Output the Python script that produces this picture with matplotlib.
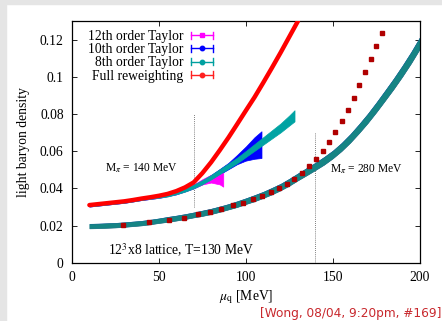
import matplotlib
matplotlib.use("Agg")
import matplotlib.pyplot as plt
import numpy as np
from matplotlib.legend_handler import HandlerBase
from matplotlib.lines import Line2D
from matplotlib.patches import Rectangle

# M_pi = 140 MeV, full reweighting
red_mu = [10, 15, 20, 25, 30, 35, 40, 45, 50, 55, 60, 65, 70, 75, 80, 85, 90, 95, 100, 105, 110, 115, 120,
          125, 130]
red_y = [0.031, 0.0315, 0.032, 0.0325, 0.033, 0.0337, 0.0345, 0.0352, 0.036, 0.037, 0.0385, 0.0405, 0.0432,
         0.0482, 0.054, 0.0605, 0.0673, 0.0745, 0.0818, 0.089, 0.0968, 0.1048, 0.113, 0.1215, 0.130]

# M_pi = 140 MeV, Taylor expansions (centre, half width)
t8_mu = [10, 15, 20, 25, 30, 35, 40, 45, 50, 55, 60, 65, 70, 75, 80, 85, 90, 95, 100, 105, 110, 115, 120,
         125, 128]
t8_y = [0.031, 0.0315, 0.032, 0.0325, 0.033, 0.0337, 0.0345, 0.0351, 0.0357, 0.0365, 0.0377, 0.0392, 0.041,
        0.0433, 0.046, 0.049, 0.052, 0.055, 0.0585, 0.062, 0.0655, 0.069, 0.0725, 0.0765, 0.079]
t8_err = [0.0008, 0.0008, 0.0008, 0.0008, 0.0008, 0.0008, 0.0008, 0.0008, 0.0008, 0.0009, 0.0009, 0.0010,
          0.0010, 0.0011, 0.0012, 0.0013, 0.0014, 0.0015, 0.0016, 0.0018, 0.0020, 0.0022, 0.0024, 0.0027, 0.0030]

t10_mu = [10, 20, 30, 40, 50, 60, 70, 75, 80, 85, 90, 95, 100, 105, 109]
t10_y = [0.031, 0.032, 0.033, 0.0345, 0.0357, 0.0377, 0.041, 0.0433, 0.046, 0.049, 0.052, 0.0555, 0.0587,
         0.0617, 0.0635]
t10_err = [0.0008, 0.0008, 0.0008, 0.0008, 0.0008, 0.0009, 0.0010, 0.0011, 0.0012, 0.0014, 0.0017, 0.0025,
           0.0038, 0.0058, 0.0072]

t12_mu = [10, 20, 30, 40, 50, 60, 70, 75, 80, 85, 87]
t12_y = [0.031, 0.032, 0.033, 0.0345, 0.0357, 0.0377, 0.041, 0.0435, 0.0452, 0.0452, 0.0446]
t12_err = [0.0008, 0.0008, 0.0008, 0.0008, 0.0008, 0.0009, 0.0010, 0.0014, 0.0021, 0.0031, 0.0037]

# M_pi = 280 MeV, Taylor expansions (all overlapping)
low_mu = [10, 15, 20, 25, 30, 35, 40, 45, 50, 55, 60, 65, 70, 75, 80, 85, 90, 95, 100, 105, 110, 115, 120,
          125, 130, 135, 140, 145, 150, 155, 160, 165, 170, 175, 180, 185, 190, 195, 200]
low_y = [0.0197, 0.0198, 0.0200, 0.0202, 0.0205, 0.0209, 0.0213, 0.0219, 0.0226, 0.0233, 0.0240, 0.0248,
         0.0257, 0.0266, 0.0276, 0.0288, 0.0301, 0.0315, 0.0331, 0.0347, 0.0365, 0.0385, 0.0407, 0.0433,
         0.0462, 0.0490, 0.0518, 0.0548, 0.0582, 0.0622, 0.0668, 0.0720, 0.0775, 0.0835, 0.0898, 0.0962,
         0.1030, 0.1102, 0.1180]
low_err = [0.0012, 0.0012, 0.0012, 0.0012, 0.0012, 0.0012, 0.0012, 0.0012, 0.0012, 0.0013, 0.0013, 0.0013,
           0.0013, 0.0014, 0.0014, 0.0014, 0.0014, 0.0015, 0.0015, 0.0016, 0.0016, 0.0017, 0.0017, 0.0018,
           0.0018, 0.0019, 0.0019, 0.0020, 0.0020, 0.0021, 0.0022, 0.0023, 0.0024, 0.0025, 0.0026, 0.0027,
           0.0028, 0.0029, 0.0030]

# M_pi = 280 MeV, full reweighting
sq_mu = [29.5, 44.5, 55.8, 64.6, 72.6, 79.5, 85.7, 92.6, 98.6, 103.9, 109.1, 114.3, 119.1, 123.9, 127.9, 132.1,
         136.3, 140.3, 144.2, 147.8, 151.5, 155.1, 158.6, 162.0, 165.3, 168.6, 172.0, 175.0, 178.3]
sq_y = [0.0203, 0.0217, 0.0230, 0.0242, 0.0260, 0.0273, 0.0287, 0.0308, 0.0323, 0.0341, 0.0360, 0.0379, 0.0402,
        0.0425, 0.0452, 0.0483, 0.0518, 0.0558, 0.0601, 0.0649, 0.0703, 0.0762, 0.0823, 0.0888, 0.0954, 0.1024,
        0.1096, 0.1166, 0.1234]

legend_labels = ["12th order Taylor", "10th order Taylor", "8th order Taylor", "Full reweighting"]
legend_colors = ["#ff00ff", "#0000ff", "#00a0a0", "#ff2020"]

RED = "#ff0000"
DARKRED = "#b00000"
TEAL = "#00a3a3"
TEAL_LOW = "#158484"


class ErrorBarHandle(HandlerBase):
    # gnuplot-like key sample: horizontal bar with caps and a point
    def create_artists(self, legend, orig, xd, yd, w, h, fs, trans):
        c = orig.get_color()
        y = h / 2 - yd
        x0, x1 = -xd, -xd + w
        arts = [Line2D([x0, x1], [y, y], color=c, lw=1),
                Line2D([x0, x0], [y - 2.5, y + 2.5], color=c, lw=1),
                Line2D([x1, x1], [y - 2.5, y + 2.5], color=c, lw=1),
                Line2D([(x0 + x1) / 2], [y], color=c, marker=orig.get_marker(), ms=3.2, lw=0)]
        for a in arts:
            a.set_transform(trans)
        return arts


def band(ax, mu, y, err, color, z):
    y = np.array(y)
    err = np.array(err)
    ax.fill_between(mu, y - err, y + err, color=color, lw=0.5, edgecolor=color, zorder=z)


def main():
    plt.rcParams["font.family"] = ["Liberation Serif", "DejaVu Serif"]
    plt.rcParams["mathtext.fontset"] = "stix"

    fig = plt.figure(figsize=(4.42, 3.21), dpi=100)
    fig.patch.set_facecolor("white")
    fig.patches.append(Rectangle((0, 1 - 4 / 321), 1, 4 / 321, transform=fig.transFigure,
                                 color="#e5e5e5", zorder=-10))
    fig.patches.append(Rectangle((0, 0), 6 / 442, 1, transform=fig.transFigure,
                                 color="#e5e5e5", zorder=-10))
    ax = fig.add_axes([0.1629, 0.1816, 0.9495 - 0.1629, 0.9346 - 0.1816])

    # M_pi = 280 MeV
    low = np.array(low_y)
    lerr = np.array(low_err)
    ax.fill_between(low_mu, low, low + lerr * 1.12, color="#1818c8", lw=0, zorder=2)
    ax.fill_between(low_mu, low - lerr * 1.08, low, color="#8a3aa0", lw=0, zorder=1.9)
    band(ax, low_mu, low_y, low_err, TEAL_LOW, 2.1)
    ax.plot(sq_mu, sq_y, ls="none", marker="s", ms=3.2, color=DARKRED, mec=DARKRED, zorder=3)

    # M_pi = 140 MeV
    band(ax, t10_mu, t10_y, t10_err, "#0000ff", 2)
    band(ax, t12_mu, t12_y, t12_err, "#ff00ff", 2.05)
    band(ax, t8_mu, t8_y, t8_err, TEAL, 2.2)
    ax.plot(red_mu, red_y, color=RED, lw=3.2, solid_capstyle="round", zorder=3)

    # pion mass markers
    ax.plot([70, 70], [0.030, 0.080], color="#555555", lw=0.6, ls=(0, (1, 1.5)), zorder=1)
    ax.plot([140, 140], [0.0, 0.070], color="#555555", lw=0.6, ls=(0, (1, 1.5)), zorder=1)

    ax.text(40, 0.051, r"M$_\pi$ = 140 MeV", fontsize=8.3, ha="center", va="center")
    ax.text(148.5, 0.0505, r"M$_\pi$ = 280 MeV", fontsize=8.3, ha="left", va="center")
    ax.text(20.5, 0.0065, r"12$^3$x8 lattice, T=130 MeV", fontsize=9.8, ha="left", va="center")

    handles = [Line2D([], [], color=c, marker=m) for c, m in zip(legend_colors, ["s", "o", "o", "o"])]
    leg = ax.legend(handles, legend_labels, loc="upper left", bbox_to_anchor=(0.02, 1.0),
                    frameon=False, markerfirst=False, fontsize=9.8, handlelength=1.6,
                    handletextpad=0.6, labelspacing=0.02, borderaxespad=0.25,
                    handler_map={Line2D: ErrorBarHandle()})
    for t in leg.get_texts():
        t.set_ha("right")
    leg._legend_box.align = "right"

    ax.set_xlim(0, 200)
    ax.set_ylim(0, 0.13)
    ax.set_xticks([0, 50, 100, 150, 200])
    ax.set_yticks([0, 0.02, 0.04, 0.06, 0.08, 0.1, 0.12])
    ax.set_yticklabels(["0", "0.02", "0.04", "0.06", "0.08", "0.1", "0.12"])
    ax.tick_params(direction="in", top=True, right=True, length=3.5, width=0.6, labelsize=9.8, pad=6)
    for s in ax.spines.values():
        s.set_linewidth(0.9)
    ax.set_xlabel(r"$\mu_{\rm q}$ [MeV]", fontsize=9.8, labelpad=3)
    ax.set_ylabel("light baryon density", fontsize=9.8, labelpad=7)

    fig.text(441 / 442, 1 - 313 / 321, "[Wong, 08/04, 9:20pm, #169]", fontsize=8.7,
             family="DejaVu Sans", color="#c8282d", ha="right", va="center")

    fig.savefig("out.png", dpi=100)


if __name__ == "__main__":
    main()
